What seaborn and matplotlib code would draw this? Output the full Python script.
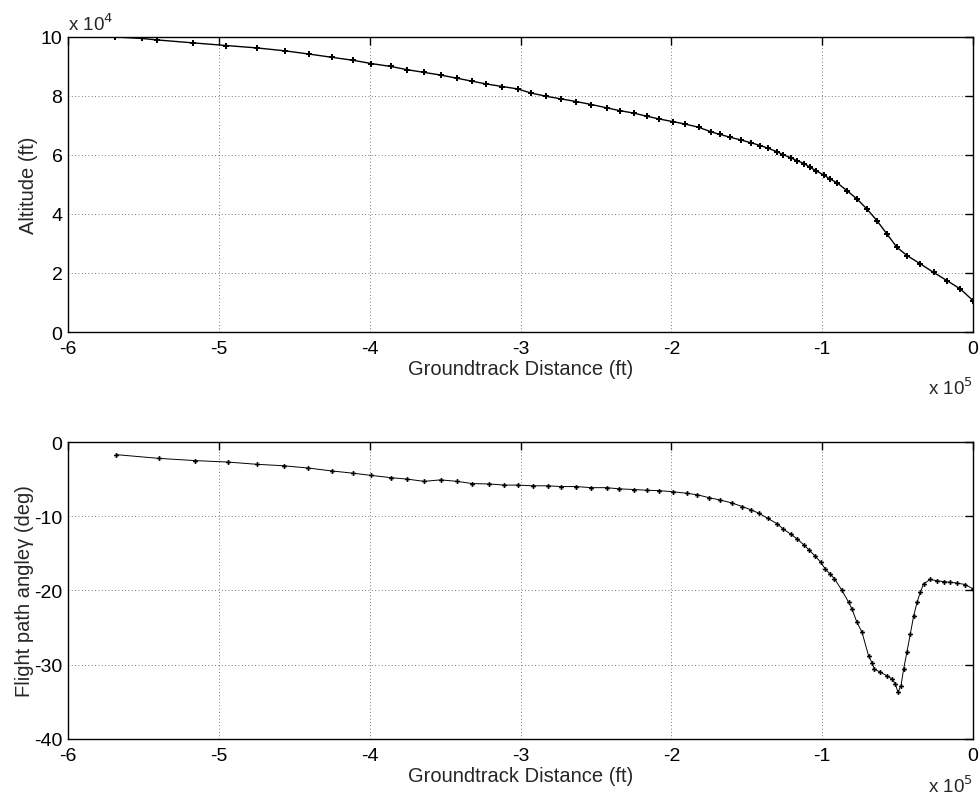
import matplotlib
matplotlib.use("Agg")
import matplotlib.pyplot as plt
import seaborn as sns
import pandas as pd

# ---- data (x in units of 1e5 ft, altitude in 1e4 ft, angle in deg) ----
alt_x = [-5.69, -5.51, -5.41, -5.17, -4.95, -4.75, -4.56, -4.40, -4.25, -4.11,
         -3.99, -3.86, -3.75, -3.64, -3.53, -3.42, -3.32, -3.23, -3.12, -3.02,
         -2.93, -2.83, -2.73, -2.63, -2.53, -2.43, -2.34, -2.25, -2.16, -2.08,
         -1.99, -1.91, -1.82, -1.74, -1.68, -1.61, -1.54, -1.47, -1.41, -1.36,
         -1.30, -1.26, -1.21, -1.17, -1.12, -1.08, -1.04, -0.99, -0.95, -0.90,
         -0.836, -0.770, -0.704, -0.637, -0.571, -0.505, -0.438, -0.350, -0.262,
         -0.173, -0.085, 0.0]
alt_y = [10.0, 9.95, 9.90, 9.80, 9.71, 9.63, 9.53, 9.42, 9.31, 9.21,
         9.10, 9.00, 8.89, 8.80, 8.71, 8.60, 8.50, 8.41, 8.32, 8.24,
         8.10, 7.99, 7.90, 7.81, 7.71, 7.60, 7.50, 7.42, 7.31, 7.22,
         7.13, 7.05, 6.94, 6.79, 6.70, 6.60, 6.51, 6.41, 6.32, 6.23,
         6.11, 6.01, 5.91, 5.81, 5.71, 5.58, 5.46, 5.32, 5.19, 5.05,
         4.79, 4.51, 4.17, 3.77, 3.32, 2.87, 2.59, 2.31, 2.02,
         1.74, 1.46, 1.06]

gam_x = [-5.68, -5.40, -5.16, -4.94, -4.75, -4.57, -4.41, -4.25, -4.11, -3.99,
         -3.86, -3.75, -3.64, -3.53, -3.42, -3.32, -3.21, -3.11, -3.02, -2.92,
         -2.82, -2.73, -2.63, -2.53, -2.43, -2.35, -2.25, -2.16, -2.08, -1.99,
         -1.90, -1.83, -1.75, -1.68, -1.60, -1.53, -1.47, -1.42, -1.36, -1.30,
         -1.26, -1.21, -1.17, -1.12, -1.09, -1.05, -1.01, -0.98, -0.947, -0.92,
         -0.869, -0.825, -0.803, -0.770, -0.737, -0.693, -0.671, -0.655, -0.615,
         -0.571, -0.538, -0.516, -0.498, -0.478, -0.461, -0.439, -0.416, -0.394,
         -0.372, -0.350, -0.328, -0.284, -0.240, -0.196, -0.151, -0.107, -0.052, 0.0]
gam_y = [-1.7, -2.2, -2.5, -2.7, -3.0, -3.2, -3.5, -3.9, -4.2, -4.5,
         -4.8, -5.0, -5.3, -5.1, -5.3, -5.6, -5.65, -5.8, -5.8, -5.9,
         -5.9, -6.0, -6.0, -6.15, -6.15, -6.3, -6.4, -6.5, -6.55, -6.7,
         -6.9, -7.1, -7.5, -7.8, -8.2, -8.7, -9.15, -9.6, -10.3, -11.0,
         -11.7, -12.4, -13.0, -13.9, -14.5, -15.3, -16.2, -17.1, -17.8, -18.4,
         -20.0, -21.6, -22.5, -24.3, -25.6, -28.8, -29.7, -30.6, -31.0,
         -31.5, -31.9, -32.6, -33.7, -32.8, -30.6, -28.3, -25.8, -23.4,
         -21.6, -20.2, -19.1, -18.5, -18.7, -18.8, -18.9, -19.0, -19.2, -19.8]

x_ticks = [-6, -5, -4, -3, -2, -1, 0]
alt_ticks = [0, 2, 4, 6, 8, 10]
gam_ticks = [-40, -30, -20, -10, 0]

df_alt = pd.DataFrame({"x": alt_x, "y": alt_y})
df_gam = pd.DataFrame({"x": gam_x, "y": gam_y})

sns.set_style("white")
plt.rcParams["font.family"] = ["Liberation Sans", "DejaVu Sans"]
plt.rcParams["axes.unicode_minus"] = False

LABEL_FS = 14.5
TICK_FS = 14

fig = plt.figure(figsize=(9.8, 8.03), dpi=100)
ax1 = fig.add_axes([0.0694, 0.5853, 0.9236, 0.3674])
ax2 = fig.add_axes([0.0694, 0.0785, 0.9236, 0.3698])


def style(ax, yticks, ylim, off_y):
    ax.set_xlim(-6, 0)
    ax.set_ylim(*ylim)
    ax.set_xticks(x_ticks)
    ax.set_yticks(yticks)
    ax.set_xticklabels([str(t) for t in x_ticks])
    ax.set_yticklabels([str(t) for t in yticks])
    ax.tick_params(direction="in", length=6, width=1, top=True, right=True,
                   labelsize=TICK_FS, colors="black")
    ax.tick_params(axis="x", pad=6)
    ax.tick_params(axis="y", pad=4)
    ax.grid(True, linestyle=(0, (1, 3)), color="black", linewidth=0.6, alpha=0.7)
    for s in ax.spines.values():
        s.set_visible(True)
        s.set_color("black")
        s.set_linewidth(1.0)
    ax.set_xlabel("Groundtrack Distance (ft)", fontsize=LABEL_FS, labelpad=1)
    ax.text(1.0, off_y, r"x 10$^5$", transform=ax.transAxes, ha="right",
            va="top", fontsize=13.5)


sns.lineplot(data=df_alt, x="x", y="y", ax=ax1, color="black", linewidth=1.0,
             marker="P", markersize=4, markeredgewidth=0, estimator=None, sort=False)
style(ax1, alt_ticks, (0, 10), -0.15)
ax1.set_ylabel("Altitude (ft)", fontsize=LABEL_FS, labelpad=2)
ax1.text(0.0, 1.01, r"x 10$^4$", transform=ax1.transAxes, ha="left",
         va="bottom", fontsize=13.5)

sns.lineplot(data=df_gam, x="x", y="y", ax=ax2, color="black", linewidth=0.7,
             marker="P", markersize=3.5, markeredgewidth=0, estimator=None, sort=False)
style(ax2, gam_ticks, (-40, 0), -0.118)
ax2.set_ylabel("Flight path angle\u03b3 (deg)", fontsize=LABEL_FS, labelpad=0)

fig.savefig("out.png", dpi=100)
